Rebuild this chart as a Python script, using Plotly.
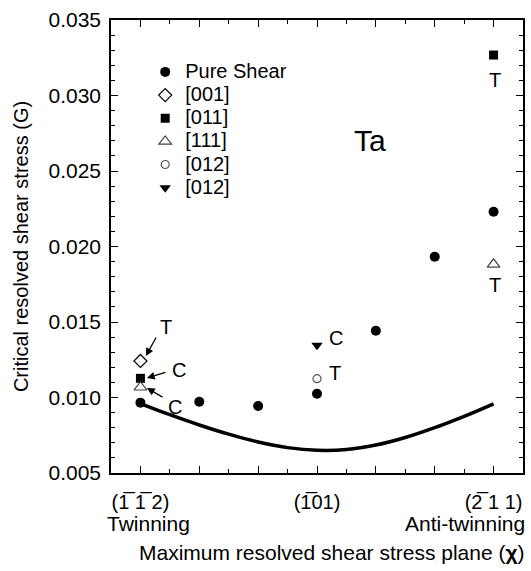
import plotly.graph_objects as go

# Orientation of the maximum resolved shear stress plane, chi (degrees)
chi_pure = [-30, -20, -10, 0, 10, 20, 30]
crss_pure = [0.00966, 0.00972, 0.00944, 0.01025, 0.01442, 0.01932, 0.0223]

chi_001 = [-30]
crss_001 = [0.01242]

chi_011 = [-30, 30]
crss_011 = [0.01127, 0.03268]

chi_111 = [-30, 30]
crss_111 = [0.01068, 0.01882]

chi_012_open = [0]
crss_012_open = [0.01125]

chi_012_filled = [0]
crss_012_filled = [0.01346]

# Model prediction curve
chi_model = [-30, -25, -20, -15, -10, -5, 0, 5, 10, 15, 20, 25, 30]
crss_model = [0.00960, 0.00886, 0.00818, 0.00757, 0.00705, 0.00668, 0.00650,
              0.00655, 0.00685, 0.00735, 0.00800, 0.00875, 0.00958]

x_tickvals = [-30, -20, -10, 0, 10, 20, 30]
x_ticktext = ["(1\u0305 1\u0305 2)", "", "", "(1\u030501)", "", "", "(2\u0305 1 1)"]

FONT = "Liberation Sans, Arial, Helvetica, sans-serif"
LEG = '<span style="font-size:20px">{}</span>'

fig = go.Figure()

fig.add_trace(go.Scatter(
    x=chi_model, y=crss_model, mode="lines",
    line=dict(color="black", width=3.5, shape="spline", smoothing=1.0),
    showlegend=False, hoverinfo="skip"))

fig.add_trace(go.Scatter(
    x=chi_pure, y=crss_pure, mode="markers", name=LEG.format("Pure Shear"),
    marker=dict(symbol="circle", size=10, color="black")))
fig.add_trace(go.Scatter(
    x=chi_001, y=crss_001, mode="markers", name=LEG.format("[001]"),
    marker=dict(symbol="diamond-open", size=10, color="black", line=dict(width=1.2))))
fig.add_trace(go.Scatter(
    x=chi_011, y=crss_011, mode="markers", name=LEG.format("[011]"),
    marker=dict(symbol="square", size=9, color="black")))
fig.add_trace(go.Scatter(
    x=chi_111, y=crss_111, mode="markers", name=LEG.format("[111]"),
    marker=dict(symbol="triangle-up-open", size=11, color="#444444", line=dict(width=1.2))))
fig.add_trace(go.Scatter(
    x=chi_012_open, y=crss_012_open, mode="markers", name=LEG.format("[012]"),
    marker=dict(symbol="circle-open", size=8, color="#555555", line=dict(width=1.2))))
fig.add_trace(go.Scatter(
    x=chi_012_filled, y=crss_012_filled, mode="markers", name=LEG.format("[012]"),
    marker=dict(symbol="triangle-down", size=10, color="black")))

# Tension / compression labels
labels = [
    ("T", -25.7, 0.01467), ("C", -23.5, 0.01182), ("C", -24.1, 0.00937),
    ("C", 3.2, 0.01394), ("T", 3.1, 0.01162),
    ("T", 30.3, 0.03103), ("T", 30.3, 0.01745),
]
annotations = []
for txt, xv, yv in labels:
    annotations.append(dict(x=xv, y=yv, xref="x", yref="y", text=txt, showarrow=False,
                            font=dict(family=FONT, size=20, color="black")))

arrows = [
    ((-27.2, 0.01407), (-29.07, 0.01275)),
    ((-25.5, 0.01169), (-28.9, 0.01129)),
    ((-26.0, 0.00997), (-28.9, 0.01063)),
]
for (tx, ty), (hx, hy) in arrows:
    annotations.append(dict(x=hx, y=hy, ax=tx, ay=ty, xref="x", yref="y", axref="x", ayref="y",
                            text="", showarrow=True, arrowhead=2, arrowsize=1.2, arrowwidth=1.3,
                            arrowcolor="black", standoff=0, startstandoff=0))

annotations.append(dict(x=9.0, y=0.0270, xref="x", yref="y", text="Ta", showarrow=False,
                        font=dict(family=FONT, size=30, color="black")))

annotations.append(dict(x=-30, y=-0.112, xref="x", yref="paper", text="Twinning", showarrow=False,
                        xanchor="center", yanchor="middle", xshift=8,
                        font=dict(family=FONT, size=21, color="black")))
annotations.append(dict(x=1.0, y=-0.112, xref="paper", yref="paper", text="Anti-twinning",
                        showarrow=False, xanchor="right", yanchor="middle", xshift=4,
                        font=dict(family=FONT, size=21, color="black")))
annotations.append(dict(x=1.0, y=-0.176, xref="paper", yref="paper",
                        text="Maximum resolved shear stress plane (<b>\u03c7</b>)",
                        showarrow=False, xanchor="right", yanchor="middle", xshift=4,
                        font=dict(family=FONT, size=21, color="black")))

fig.update_layout(
    width=531, height=571,
    margin=dict(l=111, r=6, t=20, b=98),
    paper_bgcolor="white", plot_bgcolor="white",
    font=dict(family=FONT, size=20, color="black"),
    annotations=annotations,
    legend=dict(x=0.083, y=0.922, xanchor="left", yanchor="top", bgcolor="rgba(0,0,0,0)",
                font=dict(family=FONT, size=15.5, color="black"), tracegroupgap=0,
                itemwidth=30),
)

fig.update_xaxes(
    range=[-35, 35], tickvals=x_tickvals, ticktext=x_ticktext,
    ticks="inside", ticklen=7, tickwidth=1.2, tickcolor="black", ticklabelstandoff=10,
    minor=dict(dtick=5, tick0=-35, ticks="inside", ticklen=4, tickwidth=1, tickcolor="black"),
    showline=True, linecolor="black", linewidth=1.5, mirror="ticks",
    showgrid=False, zeroline=False,
    tickfont=dict(family=FONT, size=20, color="black"),
)
fig.update_yaxes(
    range=[0.005, 0.035], dtick=0.005, tickformat=".3f",
    ticks="inside", ticklen=7, tickwidth=1.2, tickcolor="black", ticklabelstandoff=4,
    minor=dict(dtick=0.001, ticks="inside", ticklen=4, tickwidth=1, tickcolor="black"),
    showline=True, linecolor="black", linewidth=1.5, mirror="ticks",
    showgrid=False, zeroline=False,
    tickfont=dict(family=FONT, size=21, color="black"),
    title=dict(text="Critical resolved shear stress (G)", standoff=14,
               font=dict(family=FONT, size=20, color="black")),
)

fig.write_html("out.html")
